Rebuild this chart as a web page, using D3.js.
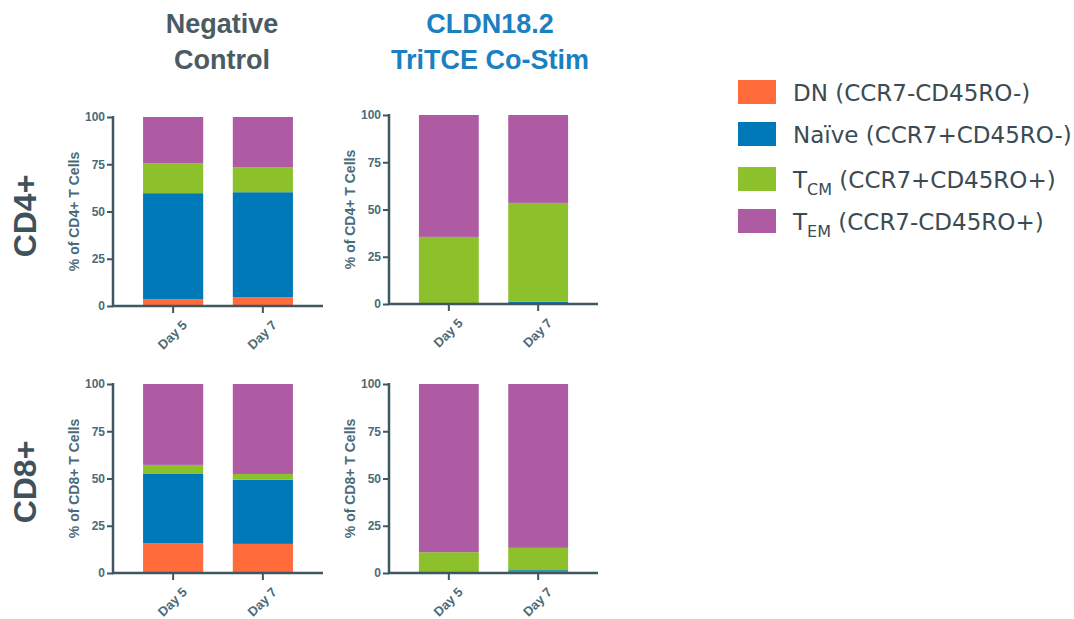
<!DOCTYPE html>
<html><head><meta charset="utf-8">
<script src="https://cdn.jsdelivr.net/npm/d3@7"></script>
<style>body{margin:0;background:#fff}svg{display:block}</style>
</head><body>
<svg id="c" width="1074" height="619"></svg>
<script>
const days = ["Day 5", "Day 7"];
const subsets = ["DN", "Naive", "TCM", "TEM"];
const legendLabels = ["DN (CCR7-CD45RO-)", "Naïve (CCR7+CD45RO-)", "(CCR7+CD45RO+)", "(CCR7-CD45RO+)"];
const yTicks = [0, 25, 50, 75, 100];
// values per subset (% of cells), for [Day 5, Day 7]
const cd4NegDN = [3.5, 4.6], cd4NegNaive = [56.2, 55.6], cd4NegTCM = [15.9, 13.1], cd4NegTEM = [24.4, 26.7];
const cd4CoDN = [0, 0.3], cd4CoNaive = [0, 0.9], cd4CoTCM = [35.5, 52.3], cd4CoTEM = [64.5, 46.5];
const cd8NegDN = [15.8, 15.4], cd8NegNaive = [36.6, 34.0], cd8NegTCM = [4.8, 3.0], cd8NegTEM = [42.8, 47.6];
const cd8CoDN = [0.5, 0.7], cd8CoNaive = [0, 0.8], cd8CoTCM = [10.5, 11.8], cd8CoTEM = [89.0, 86.7];
const colors = ["#FF6B3B", "#0079B8", "#8CC12B", "#AE5BA3"];

const svg = d3.select("#c");
const axisCol = "#3E5760", tickTextCol = "#4B6B79";
const axisFont = "'Liberation Sans', Arial, sans-serif";

const panels = [
  {x0: 113, x1: 323, yTop: 117, yBot: 306, label: "% of CD4+ T Cells", data: [cd4NegDN, cd4NegNaive, cd4NegTCM, cd4NegTEM]},
  {x0: 389, x1: 598, yTop: 115, yBot: 304, label: "% of CD4+ T Cells", data: [cd4CoDN, cd4CoNaive, cd4CoTCM, cd4CoTEM]},
  {x0: 113, x1: 323, yTop: 384, yBot: 573, label: "% of CD8+ T Cells", data: [cd8NegDN, cd8NegNaive, cd8NegTCM, cd8NegTEM]},
  {x0: 389, x1: 598, yTop: 384, yBot: 573, label: "% of CD8+ T Cells", data: [cd8CoDN, cd8CoNaive, cd8CoTCM, cd8CoTEM]}
];

panels.forEach(p => {
  const g = svg.append("g");
  const x = d3.scaleBand().domain(days).range([p.x0, p.x1]).paddingInner(0.33).paddingOuter(0.335);
  const y = d3.scaleLinear().domain([0, 100]).range([p.yBot, p.yTop]);
  const rows = days.map((d, i) => { const o = {day: d}; subsets.forEach((s, k) => o[s] = p.data[k][i]); return o; });
  const stack = d3.stack().keys(subsets)(rows);
  stack.forEach((layer, k) => {
    g.append("g").attr("fill", colors[k]).selectAll("rect").data(layer).join("rect")
      .attr("x", d => x(d.data.day)).attr("width", x.bandwidth())
      .attr("y", d => y(d[1])).attr("height", d => Math.max(0, y(d[0]) - y(d[1])));
  });
  // y axis
  const ya = g.append("g").attr("transform", `translate(${p.x0},0)`)
    .call(d3.axisLeft(y).tickValues(yTicks).tickSize(6).tickPadding(2));
  ya.select(".domain").remove();
  ya.append("line").attr("x1", 0).attr("x2", 0).attr("y1", p.yTop - 1).attr("y2", p.yBot + 1).attr("stroke", axisCol).attr("stroke-width", 2.5);
  ya.selectAll(".tick line").attr("stroke", axisCol).attr("stroke-width", 2);
  ya.selectAll(".tick text").attr("fill", tickTextCol).style("font", `bold 12px ${axisFont}`);
  // x axis
  const xa = g.append("g").attr("transform", `translate(0,${p.yBot})`)
    .call(d3.axisBottom(x).tickSize(7).tickPadding(4));
  xa.select(".domain").remove();
  xa.append("line").attr("x1", p.x0 - 1).attr("x2", p.x1).attr("y1", 0).attr("y2", 0).attr("stroke", axisCol).attr("stroke-width", 2.5);
  xa.selectAll(".tick line").attr("stroke", axisCol).attr("stroke-width", 2);
  xa.selectAll(".tick text").attr("fill", tickTextCol)
    .style("font", `bold 13px ${axisFont}`)
    .attr("text-anchor", "end").attr("dy", null)
    .attr("transform", "translate(7,12) rotate(-45)");
  // y label
  g.append("text").attr("transform", `translate(${p.x0 - 39},${(p.yTop + p.yBot) / 2}) rotate(-90)`)
    .attr("text-anchor", "middle").attr("dy", "0.35em").attr("fill", tickTextCol)
    .style("font", `bold 14px ${axisFont}`).text(p.label);
});

// column titles
const titleFont = "bold 27px 'Liberation Sans', Arial, sans-serif";
[["Negative", 222, 33, "#4A5B63"], ["Control", 222, 69, "#4A5B63"],
 ["CLDN18.2", 490, 33, "#1A80C2"], ["TriTCE Co-Stim", 490, 69, "#1A80C2"]].forEach(t => {
  svg.append("text").attr("x", t[1]).attr("y", t[2]).attr("text-anchor", "middle")
    .attr("fill", t[3]).style("font", titleFont).text(t[0]);
});
// row labels
[["CD4+", 216], ["CD8+", 482]].forEach(t => {
  svg.append("text").attr("transform", `translate(36,${t[1]}) rotate(-90)`).attr("text-anchor", "middle")
    .attr("fill", "#3F525B").style("font", "bold 32px 'Liberation Sans', Arial, sans-serif").text(t[0]);
});

// legend
const legY = [80, 122, 167, 209];
const lg = svg.append("g");
subsets.forEach((s, i) => {
  lg.append("rect").attr("x", 738).attr("y", legY[i]).attr("width", 38).attr("height", 24).attr("fill", colors[i]);
  const t = lg.append("text").attr("x", 793).attr("y", legY[i] + 21).attr("fill", "#3A4B53")
    .style("font", "23px 'DejaVu Sans', sans-serif");
  if (i < 2) t.text(legendLabels[i]);
  else {
    t.append("tspan").text("T");
    t.append("tspan").attr("dy", 7).style("font-size", "16px").text(i === 2 ? "CM" : "EM");
    t.append("tspan").attr("dy", -7).text(" " + legendLabels[i]);
  }
});
</script>
</body></html>
